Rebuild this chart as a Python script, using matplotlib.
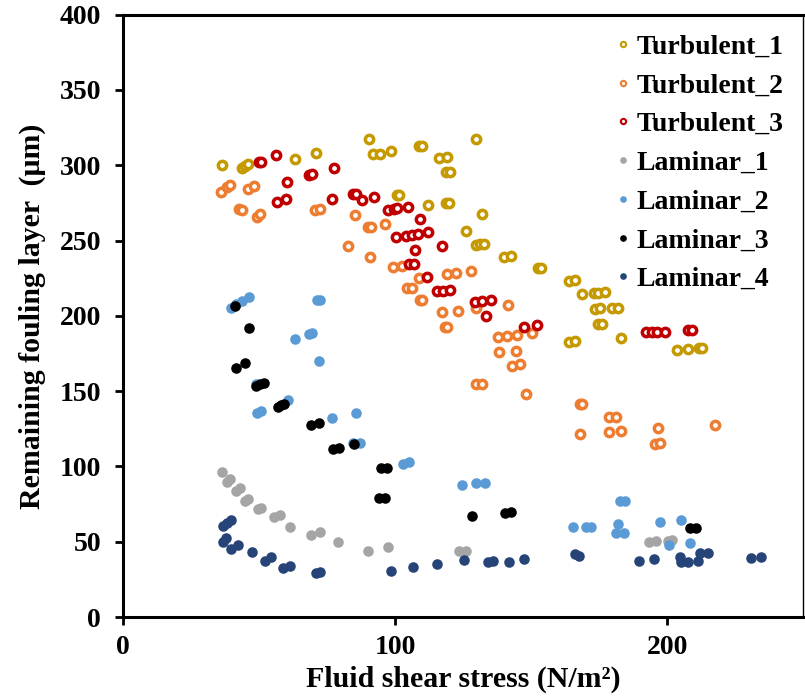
import matplotlib
matplotlib.use('Agg')
import matplotlib.pyplot as plt
from matplotlib.lines import Line2D

plt.rcParams['font.family'] = ['Liberation Serif', 'DejaVu Serif']
plt.rcParams['font.weight'] = 'bold'

# shear stress (N/m2) and remaining layer (um)
t1_x = [36.4, 43.5, 44.7, 45.9, 63.3, 70.8, 90.5, 91.7, 94.5, 98.4, 108.8, 109.8, 116.1, 119.0,
        118.6, 120.1, 129.5, 100.8, 101.5, 112.2, 118.8, 119.8, 131.8, 126.1, 129.5, 131.0,
        132.6, 139.9, 142.4, 152.4, 153.4, 163.7, 166.2, 168.6, 172.9, 174.5, 177.2, 173.3,
        175.3, 179.6, 181.7, 174.5, 176.0, 182.9, 163.7, 165.9, 203.5, 207.7, 211.8, 212.8]
t1_y = [300.1, 297.9, 299.2, 300.8, 303.9, 308.3, 317.2, 307.2, 307.6, 309.2, 312.5, 312.5, 304.8, 305.4,
        295.5, 295.5, 317.6, 280.4, 280.4, 273.5, 274.9, 274.9, 267.8, 256.5, 247.2, 247.4,
        247.7, 239.4, 239.9, 231.7, 231.7, 223.3, 223.9, 214.4, 215.1, 215.1, 215.7, 204.7,
        205.1, 205.5, 205.5, 194.7, 194.7, 185.0, 182.9, 183.4, 177.4, 178.1, 178.7, 178.7]

t2_x = [36.1, 38.2, 39.4, 45.9, 48.0, 42.6, 43.6, 49.3, 50.4, 70.4, 72.3, 82.8, 85.3, 89.9,
        91.1, 96.3, 90.7, 99.0, 102.3, 108.8, 104.5, 106.1, 109.0, 109.8, 118.9, 122.2, 127.8,
        117.3, 123.0, 118.2, 119.0, 129.5, 141.5, 137.8, 140.9, 144.8, 150.1, 138.1, 144.2,
        143.0, 146.0, 129.5, 131.8, 148.2, 168.0, 168.8, 178.4, 181.1, 168.0, 178.6, 182.9,
        196.4, 195.5, 197.3, 217.4]
t2_y = [282.4, 285.5, 286.8, 283.9, 285.9, 270.8, 270.2, 265.8, 267.3, 270.2, 271.1, 246.3, 266.9, 258.9,
        259.3, 260.9, 239.4, 232.3, 233.2, 224.8, 218.4, 218.4, 210.6, 210.8, 227.9, 228.4, 229.5,
        202.3, 203.5, 192.5, 192.7, 205.1, 207.3, 186.2, 186.9, 187.4, 188.5, 175.9, 176.9,
        167.0, 167.7, 154.6, 155.0, 148.0, 141.3, 141.5, 132.7, 132.7, 121.4, 123.1, 123.6,
        125.4, 115.0, 115.4, 127.6]

t3_x = [50.0, 50.8, 56.2, 60.1, 56.7, 60.0, 68.3, 69.3, 77.4, 76.8, 84.4, 85.6, 87.8, 92.3,
        97.5, 99.4, 100.8, 104.8, 109.2, 100.2, 103.9, 106.1, 108.2, 112.2, 107.3, 117.3,
        105.1, 107.0, 111.8, 115.3, 117.6, 120.1, 129.3, 131.8, 135.2, 133.2, 147.3, 152.0,
        192.1, 194.3, 196.1, 199.1, 207.7, 209.2]
t3_y = [302.0, 302.3, 306.8, 289.0, 275.7, 277.7, 293.5, 294.3, 298.3, 277.4, 281.1, 281.1, 276.6, 278.6,
        270.4, 270.9, 271.3, 272.4, 264.5, 252.2, 253.2, 253.7, 254.1, 255.4, 243.9, 246.5,
        234.3, 234.3, 225.7, 216.2, 216.6, 217.3, 209.5, 210.0, 210.6, 200.2, 192.9, 193.6,
        189.2, 189.6, 189.6, 189.6, 190.7, 190.7]

l1_x = [36.4, 38.3, 39.4, 41.4, 43.1, 44.8, 45.8, 49.7, 50.7, 55.3, 57.5, 61.4, 68.9, 72.2,
        79.1, 90.1, 97.2, 123.4, 126.1, 193.4, 195.8, 200.4, 201.6]
l1_y = [96.5, 89.9, 91.5, 83.9, 85.7, 77.3, 78.1, 71.9, 72.5, 66.2, 68.0, 60.0, 54.5, 56.3,
        49.8, 44.1, 46.3, 43.6, 44.1, 49.6, 50.5, 50.7, 51.2]

l2_x = [39.8, 41.6, 43.6, 46.2, 71.2, 72.2, 63.3, 68.3, 69.3, 71.9, 49.3, 50.8, 60.6, 48.7,
        76.8, 85.5, 84.4, 87.1, 102.7, 105.1, 124.5, 129.6, 133.0, 165.3, 170.1, 172.0,
        182.7, 184.5, 181.7, 181.1, 184.1, 197.3, 205.0, 200.6, 208.3]
l2_y = [205.5, 208.0, 210.0, 212.4, 210.2, 210.6, 184.7, 188.2, 188.7, 169.9, 135.3, 136.9, 143.9, 154.8,
        132.0, 135.8, 115.4, 115.8, 101.7, 102.8, 87.7, 88.8, 89.3, 59.6, 60.0, 60.0,
        77.3, 77.3, 61.8, 55.6, 56.0, 63.3, 64.5, 48.1, 49.0]

l3_x = [41.0, 46.2, 41.3, 44.6, 49.0, 50.2, 51.6, 56.8, 58.1, 59.1, 68.9, 71.8, 77.2, 79.4,
        84.7, 94.8, 96.9, 94.1, 96.3, 128.3, 140.5, 142.7, 208.3, 210.7]
l3_y = [206.4, 191.6, 165.2, 168.5, 153.5, 154.6, 155.3, 139.7, 140.9, 141.7, 127.6, 129.1, 111.4, 112.5,
        114.9, 98.8, 99.2, 78.9, 79.3, 67.1, 69.3, 70.0, 58.9, 58.9]

l4_x = [36.7, 38.0, 39.8, 36.7, 37.7, 39.8, 42.2, 47.4, 52.3, 54.5, 58.7, 61.4, 70.7, 72.2,
        98.6, 106.6, 115.4, 125.4, 134.2, 135.9, 141.9, 147.4, 165.9, 167.6, 189.6, 195.1,
        204.6, 205.2, 207.7, 211.1, 212.0, 215.0, 230.9, 234.5]
l4_y = [60.7, 62.3, 64.5, 50.0, 52.3, 45.0, 47.8, 43.2, 37.2, 39.7, 32.4, 34.1, 29.4, 29.9,
        30.8, 33.0, 35.2, 37.9, 36.3, 37.0, 36.7, 38.5, 41.9, 40.5, 37.4, 38.5,
        40.1, 36.7, 36.7, 37.4, 42.7, 42.7, 39.0, 39.7]

open_series = [('Turbulent_1', t1_x, t1_y, '#C49A00'),
               ('Turbulent_2', t2_x, t2_y, '#ED7D31'),
               ('Turbulent_3', t3_x, t3_y, '#C00000')]
filled_series = [('Laminar_1', l1_x, l1_y, '#A5A5A5'),
                 ('Laminar_2', l2_x, l2_y, '#5B9BD5'),
                 ('Laminar_3', l3_x, l3_y, '#000000'),
                 ('Laminar_4', l4_x, l4_y, '#264478')]

fig = plt.figure(figsize=(8.05, 6.98), dpi=100)
ax = fig.add_axes([0.153, 0.116, 0.845, 0.863])

handles = []
for name, xs, ys, c in open_series:
    ax.plot(xs, ys, 'o', ms=6, mfc='white', mec=c, mew=2.5, ls='none')
    handles.append(Line2D([], [], marker='o', ls='none', ms=3.8, mfc='white', mec=c, mew=1.5, label=name))
for name, xs, ys, c in filled_series:
    ax.plot(xs, ys, 'o', ms=7.6, color=c, mec='none', ls='none')
    handles.append(Line2D([], [], marker='o', ls='none', ms=4.8, color=c, mec='none', label=name))

ax.set_xlim(0, 250)
ax.set_ylim(0, 400)
ax.set_xticks([0, 100, 200])
ax.set_yticks(range(0, 401, 50))
ax.tick_params(direction='out', length=6, width=2, labelsize=20)
ax.tick_params(axis='x', pad=7)
ax.tick_params(axis='y', pad=10)
for lab in ax.get_xticklabels() + ax.get_yticklabels():
    lab.set_fontweight('bold')
ax.spines['left'].set_linewidth(2.2)
ax.spines['bottom'].set_linewidth(2.2)
ax.spines['top'].set_linewidth(2.2)
ax.spines['right'].set_linewidth(1.0)

ax.set_xlabel('Fluid shear stress (N/m²)', fontsize=21.5, fontweight='bold', labelpad=4)
ax.set_ylabel('Remaining fouling layer  (μm)', fontsize=21.5, fontweight='bold', labelpad=10)

ax.legend(handles=handles, loc='upper right', frameon=False,
          prop={'weight': 'bold', 'size': 20}, handletextpad=0.1, handlelength=0.8,
          labelspacing=0.48, borderaxespad=0.3, bbox_to_anchor=(1.0, 1.0))

fig.savefig('out.png', dpi=100)
